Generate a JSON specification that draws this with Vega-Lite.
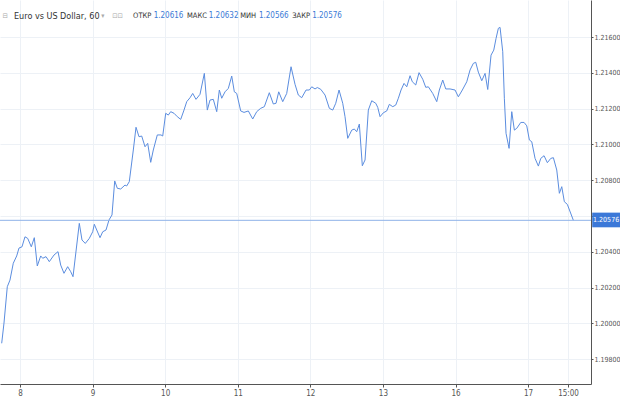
{
  "$schema": "https://vega.github.io/schema/vega-lite/v6.json",
  "width": 591,
  "height": 384,
  "autosize": "none",
  "padding": {"left": 0, "top": 0, "right": 29, "bottom": 15},
  "background": "white",
  "config": {
    "view": {"stroke": null},
    "font": "DejaVu Sans Condensed, Liberation Sans, sans-serif",
    "axis": {"labelFont": "DejaVu Sans Condensed, Liberation Sans, sans-serif"}
  },
  "datasets": {
    "price": [
      {"t": -6.05, "v": 1.19889}, {"t": -5.29, "v": 1.20002}, {"t": -4.20, "v": 1.20205}, {"t": -3.31, "v": 1.20242},
      {"t": -2.22, "v": 1.20336}, {"t": -1.09, "v": 1.20377}, {"t": -0.33, "v": 1.20421}, {"t": 0.66, "v": 1.20428},
      {"t": 1.65, "v": 1.20484}, {"t": 2.55, "v": 1.20475}, {"t": 3.74, "v": 1.20428}, {"t": 4.73, "v": 1.20479},
      {"t": 5.72, "v": 1.20321}, {"t": 6.85, "v": 1.20377}, {"t": 7.51, "v": 1.20364}, {"t": 8.60, "v": 1.20373},
      {"t": 9.69, "v": 1.20345}, {"t": 11.24, "v": 1.20382}, {"t": 12.57, "v": 1.20401}, {"t": 13.46, "v": 1.20326},
      {"t": 14.55, "v": 1.20280}, {"t": 15.77, "v": 1.20317}, {"t": 16.77, "v": 1.20289}, {"t": 17.53, "v": 1.20261},
      {"t": 19.61, "v": 1.20559}, {"t": 20.50, "v": 1.20466}, {"t": 21.59, "v": 1.20447}, {"t": 22.92, "v": 1.20475},
      {"t": 24.04, "v": 1.20512}, {"t": 24.57, "v": 1.20554}, {"t": 26.46, "v": 1.20479}, {"t": 27.35, "v": 1.20512},
      {"t": 28.44, "v": 1.20522}, {"t": 29.43, "v": 1.20578}, {"t": 30.42, "v": 1.20606}, {"t": 31.32, "v": 1.20796},
      {"t": 32.18, "v": 1.20755}, {"t": 33.30, "v": 1.20751}, {"t": 34.72, "v": 1.20773}, {"t": 35.28, "v": 1.20768},
      {"t": 36.14, "v": 1.20792}, {"t": 37.47, "v": 1.20969}, {"t": 38.36, "v": 1.21096}, {"t": 39.35, "v": 1.21043},
      {"t": 40.24, "v": 1.21047}, {"t": 41.34, "v": 1.20987}, {"t": 42.23, "v": 1.21006}, {"t": 43.22, "v": 1.20900},
      {"t": 44.08, "v": 1.20969}, {"t": 45.40, "v": 1.21053}, {"t": 46.63, "v": 1.21053}, {"t": 47.19, "v": 1.21047},
      {"t": 48.18, "v": 1.21174}, {"t": 49.04, "v": 1.21164}, {"t": 49.83, "v": 1.21183}, {"t": 50.93, "v": 1.21174},
      {"t": 52.02, "v": 1.21155}, {"t": 53.14, "v": 1.21140}, {"t": 54.23, "v": 1.21192}, {"t": 55.13, "v": 1.21239},
      {"t": 56.22, "v": 1.21261}, {"t": 57.11, "v": 1.21285}, {"t": 58.20, "v": 1.21252}, {"t": 59.52, "v": 1.21280},
      {"t": 60.95, "v": 1.21397}, {"t": 61.94, "v": 1.21192}, {"t": 62.83, "v": 1.21248}, {"t": 63.92, "v": 1.21252},
      {"t": 65.05, "v": 1.21183}, {"t": 65.91, "v": 1.21304}, {"t": 66.70, "v": 1.21258}, {"t": 67.79, "v": 1.21294},
      {"t": 68.88, "v": 1.21313}, {"t": 70.01, "v": 1.21382}, {"t": 70.87, "v": 1.21294}, {"t": 71.66, "v": 1.21285},
      {"t": 72.98, "v": 1.21187}, {"t": 74.07, "v": 1.21179}, {"t": 75.50, "v": 1.21187}, {"t": 76.95, "v": 1.21142},
      {"t": 78.27, "v": 1.21183}, {"t": 79.60, "v": 1.21202}, {"t": 80.79, "v": 1.21211}, {"t": 82.44, "v": 1.21289},
      {"t": 83.76, "v": 1.21226}, {"t": 84.66, "v": 1.21230}, {"t": 85.55, "v": 1.21294}, {"t": 86.87, "v": 1.21239},
      {"t": 88.19, "v": 1.21285}, {"t": 89.62, "v": 1.21434}, {"t": 90.94, "v": 1.21336}, {"t": 92.03, "v": 1.21276},
      {"t": 93.15, "v": 1.21261}, {"t": 94.58, "v": 1.21304}, {"t": 95.67, "v": 1.21304}, {"t": 96.46, "v": 1.21322},
      {"t": 97.55, "v": 1.21310}, {"t": 98.31, "v": 1.21318}, {"t": 99.44, "v": 1.21308}, {"t": 100.86, "v": 1.21276},
      {"t": 102.28, "v": 1.21202}, {"t": 103.41, "v": 1.21192}, {"t": 104.40, "v": 1.21230}, {"t": 105.49, "v": 1.21304},
      {"t": 106.71, "v": 1.21230}, {"t": 107.47, "v": 1.21155}, {"t": 108.37, "v": 1.21034}, {"t": 109.69, "v": 1.21080},
      {"t": 110.55, "v": 1.21086}, {"t": 111.34, "v": 1.21071}, {"t": 112.20, "v": 1.21114}, {"t": 113.19, "v": 1.20881},
      {"t": 114.09, "v": 1.20913}, {"t": 115.18, "v": 1.21192}, {"t": 116.30, "v": 1.21244}, {"t": 117.63, "v": 1.21230},
      {"t": 118.29, "v": 1.21207}, {"t": 119.05, "v": 1.21155}, {"t": 120.14, "v": 1.21177}, {"t": 121.26, "v": 1.21187},
      {"t": 122.12, "v": 1.21224}, {"t": 123.25, "v": 1.21211}, {"t": 124.24, "v": 1.21220}, {"t": 125.10, "v": 1.21258},
      {"t": 125.99, "v": 1.21304}, {"t": 126.98, "v": 1.21341}, {"t": 127.88, "v": 1.21322}, {"t": 128.97, "v": 1.21384},
      {"t": 129.73, "v": 1.21350}, {"t": 130.85, "v": 1.21332}, {"t": 131.94, "v": 1.21401}, {"t": 133.17, "v": 1.21364},
      {"t": 134.16, "v": 1.21319}, {"t": 135.02, "v": 1.21322}, {"t": 136.47, "v": 1.21285}, {"t": 137.80, "v": 1.21239},
      {"t": 138.66, "v": 1.21304}, {"t": 139.78, "v": 1.21360}, {"t": 140.77, "v": 1.21310}, {"t": 142.20, "v": 1.21310},
      {"t": 143.85, "v": 1.21304}, {"t": 144.94, "v": 1.21266}, {"t": 146.26, "v": 1.21304}, {"t": 147.72, "v": 1.21350},
      {"t": 148.81, "v": 1.21416}, {"t": 149.90, "v": 1.21453}, {"t": 150.69, "v": 1.21459}, {"t": 151.55, "v": 1.21404},
      {"t": 152.68, "v": 1.21356}, {"t": 153.77, "v": 1.21397}, {"t": 154.66, "v": 1.21307}, {"t": 155.75, "v": 1.21499},
      {"t": 156.65, "v": 1.21527}, {"t": 157.41, "v": 1.21593}, {"t": 158.17, "v": 1.21649}, {"t": 158.73, "v": 1.21654},
      {"t": 159.62, "v": 1.21518}, {"t": 160.15, "v": 1.21258}, {"t": 160.71, "v": 1.21062}, {"t": 161.71, "v": 1.20978},
      {"t": 162.60, "v": 1.21183}, {"t": 163.46, "v": 1.21080}, {"t": 164.25, "v": 1.21090}, {"t": 165.58, "v": 1.21123},
      {"t": 166.67, "v": 1.21123}, {"t": 167.56, "v": 1.21104}, {"t": 168.42, "v": 1.21025}, {"t": 169.21, "v": 1.21015},
      {"t": 170.30, "v": 1.20922}, {"t": 171.40, "v": 1.20879}, {"t": 172.19, "v": 1.20922}, {"t": 173.28, "v": 1.20937},
      {"t": 174.37, "v": 1.20898}, {"t": 175.50, "v": 1.20922}, {"t": 176.36, "v": 1.20926}, {"t": 177.48, "v": 1.20857},
      {"t": 178.34, "v": 1.20727}, {"t": 179.13, "v": 1.20764}, {"t": 179.99, "v": 1.20680}, {"t": 180.98, "v": 1.20665},
      {"t": 182.97, "v": 1.20576}
    ],
    "header": [
      {"label": "⊟", "pos": -5.8, "kind": "icon"},
      {"label": "Euro vs US Dollar, 60", "pos": -1.98, "kind": "title"},
      {"label": "▾", "pos": 26.9, "kind": "icon"},
      {"label": "⊡⊡", "pos": 30.5, "kind": "icon"},
      {"label": "ОТКР", "pos": 37.4, "kind": "k"},
      {"label": "1.20616", "pos": 44.2, "kind": "v"},
      {"label": "МАКС", "pos": 55.2, "kind": "k"},
      {"label": "1.20632", "pos": 62.4, "kind": "v"},
      {"label": "МИН", "pos": 72.8, "kind": "k"},
      {"label": "1.20566", "pos": 79.0, "kind": "v"},
      {"label": "ЗАКР", "pos": 90.0, "kind": "k"},
      {"label": "1.20576", "pos": 96.6, "kind": "v"}
    ]
  },
  "layer": [
    {
      "data": {"name": "price"},
      "mark": {"type": "line", "stroke": "#5b8ddf", "strokeWidth": 1, "interpolate": "linear"},
      "encoding": {
        "x": {
          "field": "t", "type": "quantitative",
          "scale": {"domain": [-6.61, 188.8], "nice": false, "zero": false},
          "axis": {
            "title": null, "orient": "bottom",
            "values": [0, 24, 48, 72, 96, 120, 144, 168, 181.2],
            "labelExpr": "datum.value==0?'8':datum.value==24?'9':datum.value==48?'10':datum.value==72?'11':datum.value==96?'12':datum.value==120?'13':datum.value==144?'16':datum.value==168?'17':'15:00'",
            "grid": true, "gridColor": "#edf1f6", "gridWidth": 1,
            "domainColor": "#555555", "domainWidth": 1,
            "tickColor": "#555555", "tickSize": 3,
            "labelColor": "#555555", "labelFontSize": 8, "labelPadding": 2
          }
        },
        "y": {
          "field": "v", "type": "quantitative",
          "scale": {"domain": [1.196615, 1.21807], "nice": false, "zero": false},
          "axis": {
            "title": null, "orient": "right",
            "values": [1.198, 1.2, 1.202, 1.204, 1.206, 1.208, 1.21, 1.212, 1.214, 1.216],
            "format": ".5f",
            "grid": true, "gridColor": "#edf1f6", "gridWidth": 1,
            "domainColor": "#555555", "domainWidth": 1,
            "tickColor": "#555555", "tickSize": 2,
            "labelColor": "#555555", "labelFontSize": 7, "labelPadding": 1
          }
        }
      }
    },
    {
      "data": {"values": [{"last": 1.20576}]},
      "mark": {"type": "rule", "stroke": "#8fb2e8", "strokeWidth": 1},
      "encoding": {"y": {"field": "last", "type": "quantitative"}}
    },
    {
      "data": {"values": [{"hi": 1.20619, "lo": 1.20537, "x1": 189.2, "x2": 198.6}]},
      "mark": {"type": "rect", "fill": "#3b78d8", "clip": false},
      "encoding": {
        "x": {"field": "x1", "type": "quantitative"},
        "x2": {"field": "x2"},
        "y": {"field": "hi", "type": "quantitative"},
        "y2": {"field": "lo"}
      }
    },
    {
      "data": {"values": [{"last": 1.20576, "xp": 193.8, "label": "1.20576"}]},
      "mark": {"type": "text", "color": "white", "fontSize": 7, "align": "center", "baseline": "middle", "clip": false},
      "encoding": {
        "x": {"field": "xp", "type": "quantitative"},
        "y": {"field": "last", "type": "quantitative"},
        "text": {"field": "label"}
      }
    },
    {
      "data": {"name": "header"},
      "mark": {"type": "text", "align": "left", "baseline": "middle", "clip": false},
      "encoding": {
        "x": {"field": "pos", "type": "quantitative"},
        "y": {"datum": 1.21717},
        "text": {"field": "label"},
        "color": {
          "condition": [
            {"test": "datum.kind=='v'", "value": "#3c7bd6"},
            {"test": "datum.kind=='icon'", "value": "#aaaaaa"}
          ],
          "value": "#333333"
        },
        "size": {
          "condition": [
            {"test": "datum.kind=='title'", "value": 9},
            {"test": "datum.kind=='icon'", "value": 7},
            {"test": "datum.kind=='k'", "value": 7.5}
          ],
          "value": 8
        }
      }
    }
  ]
}
